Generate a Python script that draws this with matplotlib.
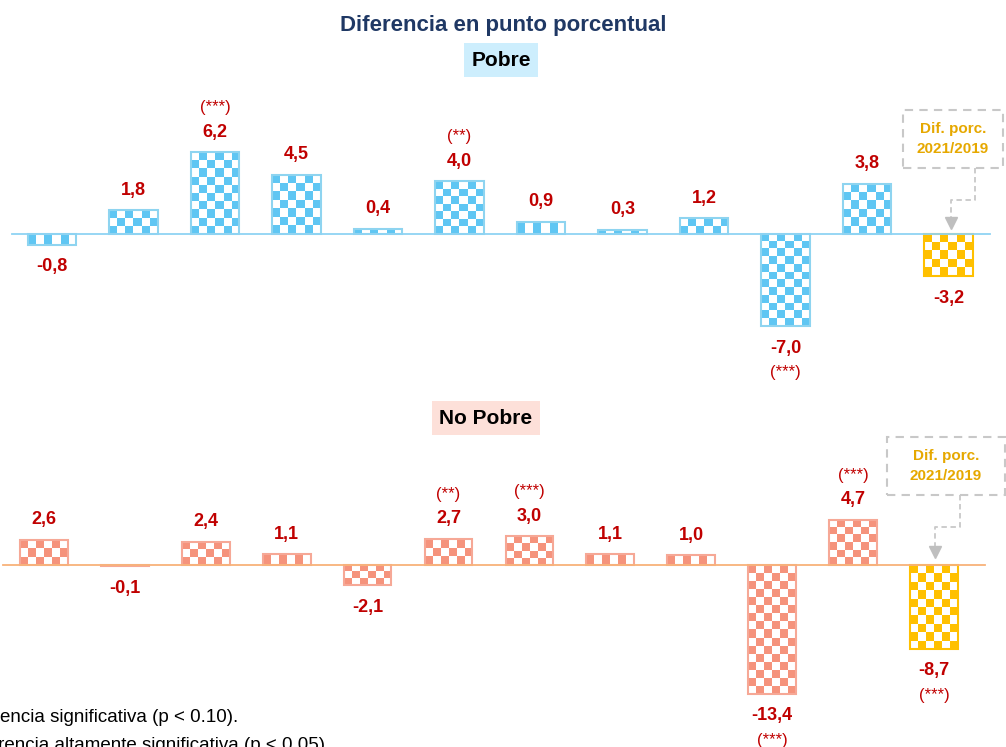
import numpy as np
import matplotlib.pyplot as plt
from matplotlib.colors import to_rgb
from matplotlib.patches import Rectangle
from matplotlib.lines import Line2D

plt.rcParams['font.family'] = ['Liberation Sans Narrow', 'Liberation Sans', 'DejaVu Sans']

# Data: diferencia en puntos porcentuales (12 categorías, la última = 2021/2019)
pobre = [-0.8, 1.8, 6.2, 4.5, 0.4, 4.0, 0.9, 0.3, 1.2, -7.0, 3.8, -3.2]
pobre_sig = ['', '', '(***)', '', '', '(**)', '', '', '', '(***)', '', '']
no_pobre = [2.6, -0.1, 2.4, 1.1, -2.1, 2.7, 3.0, 1.1, 1.0, -13.4, 4.7, -8.7]
no_pobre_sig = ['', '', '', '', '', '(**)', '(***)', '', '', '(***)', '(***)', '(***)']

W, H = 1006, 747
fig = plt.figure(figsize=(W / 100, H / 100), dpi=100)

def fx(px):
    return px / W

def fy(py):
    return 1 - py / H

RED = '#c00000'
YELLOW = '#ffc000'


def checker_bar(ax, x, v, color, edge, width, ppu, cell=8):
    x0, x1 = x - width / 2, x + width / 2
    nrows = max(1, int(round(abs(v) * ppu / cell)))
    ncols = 6
    c = np.array(to_rgb(color))
    img = np.ones((nrows, ncols, 3))
    for r in range(nrows):
        for k in range(ncols):
            if (r + k) % 2 == 0:
                img[r, k] = c
    ax.imshow(img, extent=[x0, x1, min(0, v), max(0, v)], aspect='auto',
              interpolation='nearest', origin='lower' if v > 0 else 'upper', zorder=2)
    ax.add_patch(Rectangle((x0, min(0, v)), width, abs(v), facecolor='none',
                           edgecolor=edge, linewidth=1.5, zorder=3))


def panel(values, sigs, rect, xlim, ylim, ppu, color, edge, line_color, line_x):
    ax = fig.add_axes(rect)
    n = len(values)
    width = 0.59
    for i, v in enumerate(values):
        if i == n - 1:
            checker_bar(ax, i, v, YELLOW, YELLOW, width, ppu)
        else:
            checker_bar(ax, i, v, color, edge, width, ppu)
        lab = f'{v:.1f}'.replace('.', ',')
        sgn = 1 if v >= 0 else -1
        off = 14.5 if v >= 0 else 16
        ax.annotate(lab, (i, v), xytext=(0, sgn * off), textcoords='offset points',
                    ha='center', va='center', fontsize=13, fontweight='bold', color=RED)
        if sigs[i]:
            ax.annotate(sigs[i], (i, v), xytext=(0, sgn * (off + 17.5)),
                        textcoords='offset points', ha='center', va='center',
                        fontsize=12, color=RED)
    ax.plot(line_x, [0, 0], color=line_color, linewidth=1.3, zorder=4)
    ax.set_xlim(*xlim)
    ax.set_ylim(*ylim)
    ax.axis('off')
    return ax


# Top panel: Pobre
panel(pobre, pobre_sig, [0, fy(390), 1, 300 / H],
      (-52 / 81.5, (W - 52) / 81.5), (-156 / 13.2, 144 / 13.2), 13.2,
      '#5fc6f3', '#8ed4f0', '#8fd3f3', [(12 - 52) / 81.5, (990 - 52) / 81.5])

# Bottom panel: No Pobre
panel(no_pobre, no_pobre_sig, [0, 0, 1, 347 / H],
      (-44 / 80.9, (W - 44) / 80.9), (-182 / 9.6, 165 / 9.6), 9.6,
      '#f5937c', '#f6a896', '#f8b27a', [(3 - 44) / 80.9, (985 - 44) / 80.9])

# Titles
fig.text(fx(503), fy(26), 'Diferencia en punto porcentual', ha='center', va='center',
         fontsize=16, fontweight='bold', color='#1f3864')
fig.text(fx(501), fy(60), 'Pobre', ha='center', va='center', fontsize=15,
         fontweight='bold', color='black',
         bbox=dict(boxstyle='square,pad=0.35', facecolor='#cdeefd', edgecolor='none'))
fig.text(fx(486), fy(418), 'No Pobre', ha='center', va='center', fontsize=15,
         fontweight='bold', color='black',
         bbox=dict(boxstyle='square,pad=0.35', facecolor='#fde0d9', edgecolor='none'))


def callout(x0, y0, x1, y1, xconn, ymid, xarrow, ytip):
    fig.patches.append(Rectangle((fx(x0), fy(y1)), fx(x1 - x0), (y1 - y0) / H,
                                 transform=fig.transFigure, facecolor='white',
                                 edgecolor='#c8c8c8', linestyle=(0, (4, 3)), linewidth=1.5))
    fig.text(fx((x0 + x1) / 2), fy((y0 + y1) / 2), 'Dif. porc.\n2021/2019', ha='center',
             va='center', fontsize=11, fontweight='bold', color='#e6a800', linespacing=1.5)
    fig.add_artist(Line2D([fx(xconn), fx(xconn), fx(xarrow), fx(xarrow)],
                          [fy(y1), fy(ymid), fy(ymid), fy(ytip - 8)],
                          transform=fig.transFigure, color='#c8c8c8',
                          linestyle=(0, (3, 2)), linewidth=1.3))
    fig.add_artist(Line2D([fx(xarrow)], [fy(ytip - 5)], transform=fig.transFigure,
                          marker='v', markersize=9, color='#bfbfbf', linestyle='none'))


callout(903, 110, 1003, 168, 975, 200, 951, 228)
callout(887, 437, 1005, 495, 960, 527, 935, 557)

# Footnotes (partially cut off on the left as in the original)
fig.text(fx(238), fy(718), '(**) Diferencia significativa (p < 0.10).', ha='right',
         va='center', fontsize=13.5, family=['Liberation Sans', 'DejaVu Sans'])
fig.text(fx(330), fy(745), '(***) Diferencia altamente significativa (p < 0.05).',
         ha='right', va='center', fontsize=13.5, family=['Liberation Sans', 'DejaVu Sans'])

fig.savefig('out.png', dpi=100)
